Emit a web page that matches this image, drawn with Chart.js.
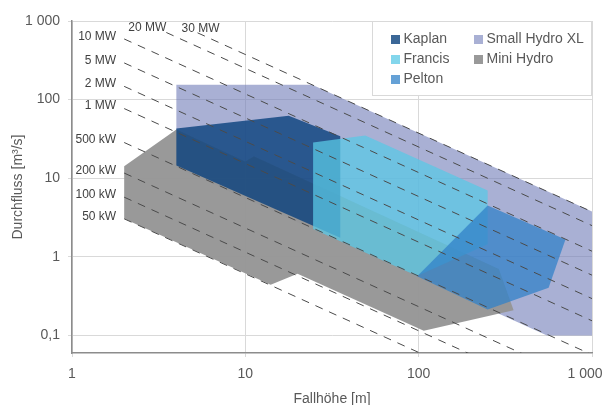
<!DOCTYPE html>
<html>
<head>
<meta charset="utf-8">
<script src="https://cdn.jsdelivr.net/npm/chart.js@4.4.0/dist/chart.umd.min.js"></script>
<style>
html, body { margin: 0; padding: 0; background: #fff; }
#wrap { width: 603px; height: 405px; }
</style>
</head>
<body>
<div id="wrap"><canvas id="myChart" width="603" height="405"></canvas></div>
<script>
// achsen
var xTicks = [1, 10, 100, 1000];
var yTicks = [0.1, 1, 10, 100, 1000];

// einsatzbereiche: Fallhöhe H [m] / Durchfluss Q [m3/s]
var kaplanH  = [4, 17.8, 35.3, 35.3, 4];
var kaplanQ  = [43, 62.6, 34.2, 1.75, 14.5];
var francisH = [24.6, 49.2, 250, 250, 98, 24.6];
var francisQ = [28.6, 34.9, 7.0, 1.45, 0.57, 2.26];
var peltonH  = [98, 250, 703, 562, 250];
var peltonQ  = [0.567, 4.49, 1.66, 0.404, 0.214];
var smallXlH = [4, 24.3, 1000, 1000, 550, 4];
var smallXlQ = [155, 155, 3.77, 0.1, 0.1, 13.75];
var miniH    = [2, 4, 10, 11.2, 290, 353, 107, 20, 14, 2];
var miniQ    = [14.2, 41.6, 16.4, 19, 0.70, 0.21, 0.115, 0.613, 0.443, 3.05];

// leistungslinien (Q*H konstant)
var powerLabels = ['50 kW', '100 kW', '200 kW', '500 kW', '1 MW', '2 MW', '5 MW', '10 MW', '20 MW', '30 MW'];
var powerQH     = [6.1, 11.5, 23.3, 57, 154, 295, 586, 1182, 2500, 3750];
var lineStartH  = [2, 2, 2, 2, 2, 2, 2, 2, 3.5, 5.3];
var lineEndH    = 1000;

var textColor = '#595959';
var fontFamily = '"Liberation Sans", Arial, Helvetica, sans-serif';

// wo die beschriftung neben dem linienanfang sitzt
var labelOffset = [];
for (var i = 0; i < powerLabels.length; i++) {
    labelOffset.push({align: 'right', dx: -8, dy: -2.5});
}
labelOffset[8] = {align: 'center', dx: -19, dy: -4.5};
labelOffset[9] = {align: 'center', dx: 3, dy: -4.5};

function toPoints(hs, qs) {
    return hs.map(function (h, i) { return {x: h, y: qs[i]}; });
}

function fmtNum(v) {
    if (v < 1) return String(v).replace('.', ',');
    return String(v).replace(/\B(?=(\d{3})+(?!\d))/g, ' ');
}

var areas = [
    {label: 'Kaplan',         data: toPoints(kaplanH, kaplanQ),   color: 'rgba(10,65,125,0.8)',   order: 3},
    {label: 'Francis',        data: toPoints(francisH, francisQ), color: 'rgba(90,200,230,0.75)', order: 2},
    {label: 'Pelton',         data: toPoints(peltonH, peltonQ),   color: 'rgba(50,130,200,0.75)', order: 1},
    {label: 'Small Hydro XL', data: toPoints(smallXlH, smallXlQ), color: 'rgba(112,124,184,0.6)', order: 5},
    {label: 'Mini Hydro',     data: toPoints(miniH, miniQ),       color: 'rgba(150,150,150,0.97)', order: 4}
];

var datasets = [];
areas.forEach(function (a) {
    datasets.push({
        label: a.label,
        data: a.data,
        showLine: true,
        fill: 'shape',
        backgroundColor: a.color,
        borderColor: a.color,
        borderWidth: 0,
        pointRadius: 0,
        tension: 0,
        order: a.order
    });
});

for (var k = 0; k < powerQH.length; k++) {
    datasets.push({
        label: powerLabels[k],
        data: [
            {x: lineStartH[k], y: powerQH[k] / lineStartH[k]},
            {x: lineEndH, y: powerQH[k] / lineEndH}
        ],
        showLine: true,
        fill: false,
        borderColor: '#4a4a4a',
        borderWidth: 1,
        borderDash: [8, 7],
        pointRadius: 0,
        order: 0,
        isPowerLine: true
    });
}

// beschriftung der leistungslinien
var powerLabelPlugin = {
    id: 'powerLabels',
    afterDatasetsDraw: function (chart) {
        var ctx = chart.ctx, xs = chart.scales.x, ys = chart.scales.y;
        ctx.save();
        ctx.font = '12px ' + fontFamily;
        ctx.fillStyle = '#404040';
        ctx.textBaseline = 'middle';
        for (var i = 0; i < powerLabels.length; i++) {
            var px = xs.getPixelForValue(lineStartH[i]);
            var py = ys.getPixelForValue(powerQH[i] / lineStartH[i]);
            var off = labelOffset[i];
            ctx.textAlign = off.align;
            ctx.fillText(powerLabels[i], px + off.dx, py + off.dy);
        }
        ctx.restore();
    }
};

// legende im diagramm oben rechts
var boxLegendPlugin = {
    id: 'boxLegend',
    afterDraw: function (chart) {
        var ctx = chart.ctx;
        var bx = 372, by = 21, bw = 219, bh = 74;
        ctx.save();
        ctx.fillStyle = '#ffffff';
        ctx.fillRect(bx, by, bw, bh);
        ctx.strokeStyle = '#d9d9d9';
        ctx.lineWidth = 1;
        ctx.strokeRect(bx + 0.5, by + 0.5, bw, bh);
        ctx.font = '14px ' + fontFamily;
        ctx.textBaseline = 'middle';
        ctx.textAlign = 'left';
        var colX = [391, 474];
        var n = 0;
        chart.data.datasets.forEach(function (ds) {
            if (ds.isPowerLine) return;
            var col = n < 3 ? 0 : 1;
            var row = n < 3 ? n : n - 3;
            var cy = 39.5 + row * 20;
            ctx.fillStyle = '#ffffff';
            ctx.fillRect(colX[col], cy - 4.5, 9, 9);
            ctx.fillStyle = ds.backgroundColor;
            ctx.fillRect(colX[col], cy - 4.5, 9, 9);
            ctx.fillStyle = textColor;
            ctx.fillText(ds.label, colX[col] + 12.5, cy);
            n++;
        });
        ctx.restore();
    }
};

var ctx = document.getElementById('myChart').getContext('2d');
var myChart = new Chart(ctx, {
    type: 'scatter',
    data: {datasets: datasets},
    plugins: [powerLabelPlugin, boxLegendPlugin],
    options: {
        responsive: false,
        animation: false,
        devicePixelRatio: 1,
        layout: {padding: {top: 21, right: 11, left: 0, bottom: 0}},
        plugins: {
            legend: {display: false},
            tooltip: {enabled: false}
        },
        scales: {
            x: {
                type: 'logarithmic',
                min: 1,
                max: 1000,
                afterBuildTicks: function (scale) {
                    scale.ticks = xTicks.map(function (v) { return {value: v}; });
                },
                afterFit: function (scale) {
                    scale.height = 52;
                    scale.paddingLeft = 0;
                    scale.paddingRight = 0;
                },
                grid: {color: '#d9d9d9', tickLength: 4},
                border: {color: '#8c8c8c', width: 1.5},
                ticks: {
                    color: textColor,
                    font: {size: 14, family: fontFamily},
                    padding: 9,
                    maxRotation: 0,
                    autoSkip: false,
                    callback: function (v) {
                        // letzte beschriftung etwas nach links wie im original
                        return v >= 1000 ? fmtNum(v) + '\u2002\u2002' : fmtNum(v);
                    }
                },
                title: {
                    display: true,
                    text: 'Fallhöhe [m]',
                    color: textColor,
                    font: {size: 14, family: fontFamily},
                    padding: {top: 0, bottom: -3}
                }
            },
            y: {
                type: 'logarithmic',
                min: 0.06,
                max: 1000,
                afterBuildTicks: function (scale) {
                    scale.ticks = yTicks.map(function (v) { return {value: v}; });
                },
                afterFit: function (scale) {
                    scale.width = 72;
                },
                grid: {color: '#d9d9d9', tickLength: 4},
                border: {color: '#8c8c8c', width: 1.5},
                ticks: {
                    color: textColor,
                    font: {size: 14, family: fontFamily},
                    padding: 8,
                    autoSkip: false,
                    callback: function (v) { return fmtNum(v); }
                },
                title: {
                    display: true,
                    text: 'Durchfluss [m³/s]',
                    color: textColor,
                    font: {size: 14, family: fontFamily},
                    padding: {top: 10, bottom: 0}
                }
            }
        }
    }
});
</script>
</body>
</html>
